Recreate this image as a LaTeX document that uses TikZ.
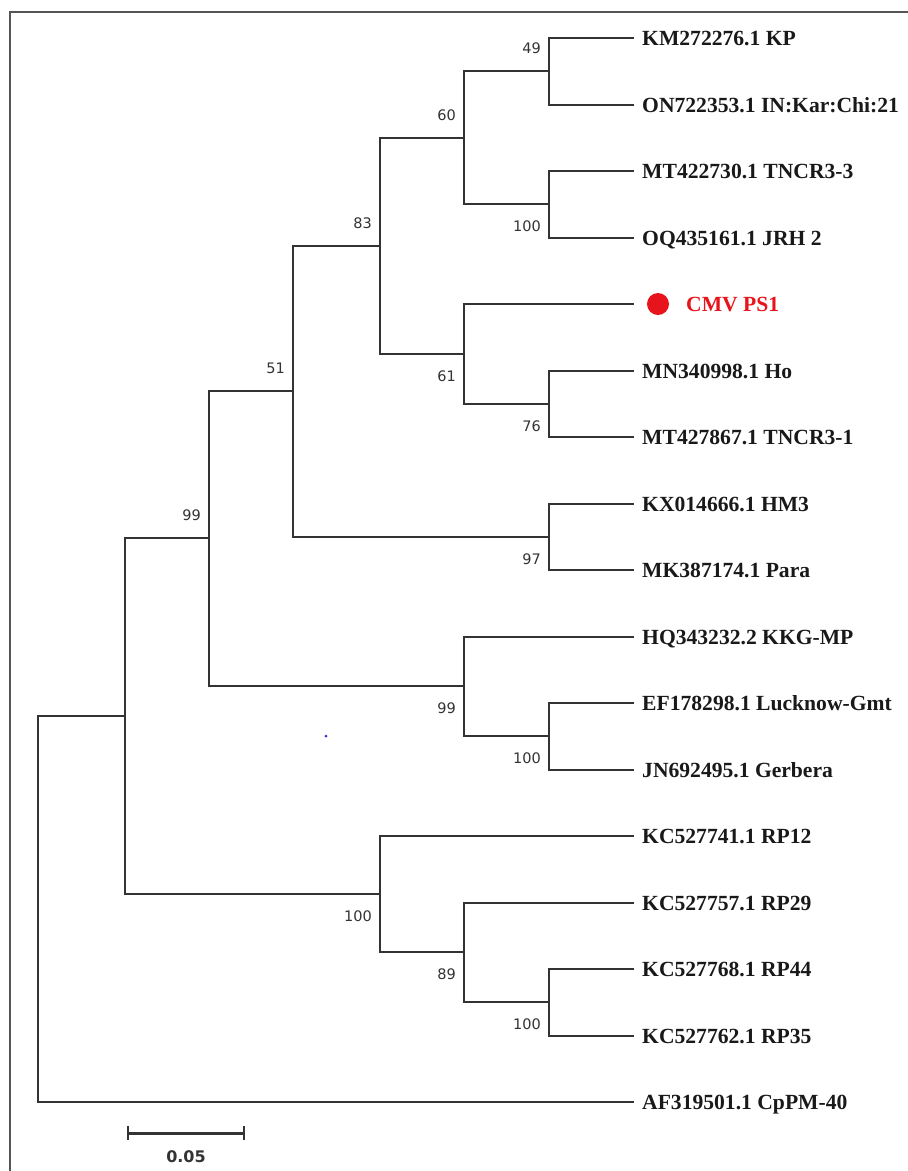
\documentclass[tikz,border=0pt]{standalone}
\usepackage{fontspec}
\setmainfont{Liberation Serif}
\newfontfamily\bootfont{DejaVu Sans}
\definecolor{branchc}{HTML}{333333}
\definecolor{bootc}{HTML}{333333}
\definecolor{cmvred}{HTML}{E8141B}
\definecolor{framec}{HTML}{555555}
\definecolor{dotblue}{HTML}{3030C8}
\begin{document}
\begin{tikzpicture}[x=1pt,y=-1pt,
  branch/.style={draw=branchc,line width=2pt,line cap=rect},
  leaflabel/.style={anchor=base west,inner sep=0pt,font=\fontsize{21.6}{22}\selectfont\bfseries,text=black!90},
  boot/.style={inner sep=0pt,font=\bootfont\fontsize{14.5}{15}\selectfont,text=bootc},
  bootup/.style={boot,anchor=south east,xshift=-8pt,yshift=17pt},
  bootdown/.style={boot,anchor=north east,xshift=-8pt,yshift=-17pt}]
\useasboundingbox (0,0) rectangle (908,1171);
\fill[white] (0,0) rectangle (908,1171);
% frame
\draw[framec,line width=1.2pt] (10,1171) -- (10,12) -- (908,12);
% internal nodes
\coordinate (R) at (38,909);
\coordinate (P) at (125,716);
\coordinate (K) at (209,538);
\coordinate (O) at (380,894);
\coordinate (H) at (293,391);
\coordinate (J) at (464,686);
\coordinate (F) at (380,246);
\coordinate (G) at (549,537);
\coordinate (C) at (464,138);
\coordinate (E) at (464,354);
\coordinate (A) at (549,71);
\coordinate (B) at (549,204);
\coordinate (D) at (549,404);
\coordinate (I) at (549,736);
\coordinate (N) at (464,952);
\coordinate (M) at (549,1002);
% tips
\foreach \i/\yy in {0/38,1/105,2/171,3/238,4/304,5/371,6/437,7/504,8/570,
  9/637,10/703,11/770,12/836,13/903,14/969,15/1036,16/1102}
  {\coordinate (t\i) at (633,\yy);}
% branches
\foreach \a/\b in {R/P,R/t16,P/K,P/O,K/H,K/J,H/F,H/G,F/C,F/E,C/A,C/B,
  A/t0,A/t1,B/t2,B/t3,E/t4,E/D,D/t5,D/t6,G/t7,G/t8,J/t9,J/I,I/t10,I/t11,
  O/t12,O/N,N/t13,N/M,M/t14,M/t15}
  {\draw[branch] (\a) |- (\b);}
% leaf labels
\foreach \i/\txt in {0/KM272276.1 KP,1/ON722353.1 IN:Kar:Chi:21,2/MT422730.1 TNCR3-3,
  3/OQ435161.1 JRH 2,5/MN340998.1 Ho,6/MT427867.1 TNCR3-1,7/KX014666.1 HM3,
  8/MK387174.1 Para,9/HQ343232.2 KKG-MP,10/EF178298.1 Lucknow-Gmt,
  11/JN692495.1 Gerbera,12/KC527741.1 RP12,13/KC527757.1 RP29,14/KC527768.1 RP44,
  15/KC527762.1 RP35,16/AF319501.1 CpPM-40}
  {\node[leaflabel] (l\i) at ([xshift=9pt,yshift=-7pt]t\i) {\txt};}
% study isolate
\node[circle,fill=cmvred,minimum size=22pt,inner sep=0pt] (cmvdot) at ([xshift=25pt]t4) {};
\node[leaflabel,text=cmvred] (l4) at ([xshift=53pt,yshift=-7pt]t4) {CMV PS1};
% bootstrap values
\node[bootup] (bA) at (A) {49};
\node[bootup] (bC) at (C) {60};
\node[bootdown] (bB) at (B) {100};
\node[bootup] (bF) at (F) {83};
\node[bootdown] (bE) at (E) {61};
\node[bootdown] (bD) at (D) {76};
\node[bootup] (bH) at (H) {51};
\node[bootdown] (bG) at (G) {97};
\node[bootup] (bK) at (K) {99};
\node[bootdown] (bJ) at (J) {99};
\node[bootdown] (bI) at (I) {100};
\node[bootdown] (bO) at (O) {100};
\node[bootdown] (bN) at (N) {89};
\node[bootdown] (bM) at (M) {100};
% stray dot
\node[circle,fill=dotblue,minimum size=3pt,inner sep=0pt] (bluedot) at (326,736) {};
% scale bar
\coordinate (s1) at (128,1133);
\coordinate (s2) at (244,1133);
\draw[branchc,line width=3pt] (s1) -- (s2);
\draw[branchc,line width=2.4pt] ([yshift=7pt]s1) -- ([yshift=-7pt]s1);
\draw[branchc,line width=2.4pt] ([yshift=7pt]s2) -- ([yshift=-7pt]s2);
\node[inner sep=0pt,font=\bootfont\fontsize{16}{16}\selectfont\bfseries,text=branchc] (scalelab) at (186,1157) {0.05};
\end{tikzpicture}
\end{document}
